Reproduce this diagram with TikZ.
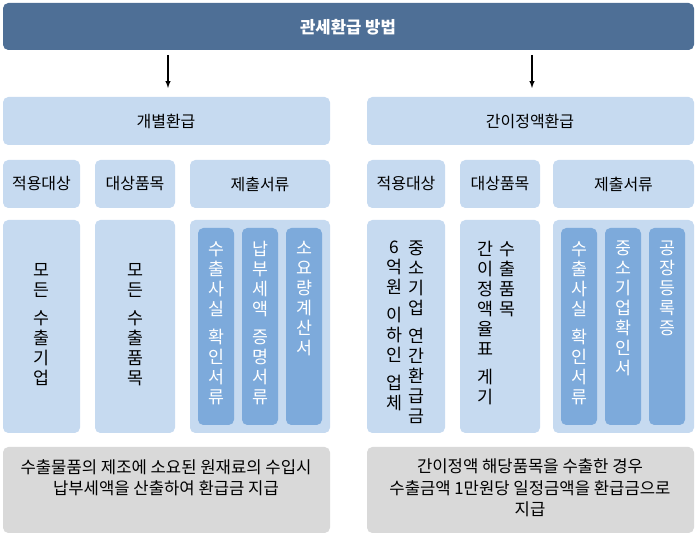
\documentclass[tikz,border=0pt]{standalone}
\usepackage{fontspec}
\setmainfont{Noto Sans CJK KR}
\usetikzlibrary{positioning}
\definecolor{titleblue}{HTML}{4E6F96}
\definecolor{lightblue}{HTML}{C6DAF0}
\definecolor{darkblue}{HTML}{7DAADB}
\definecolor{boxgray}{HTML}{D9D9D9}
\tikzset{
  box/.style={fill=lightblue,rounded corners=4pt,draw=none},
  inner/.style={fill=darkblue,rounded corners=4pt,draw=none},
  note/.style={fill=boxgray,rounded corners=4pt,draw=none},
  vert/.style={anchor=north,align=center,inner sep=0pt,font=\fontsize{13}{15}\selectfont},
  lbl/.style={font=\fontsize{12}{14}\selectfont,align=center}
}
\begin{document}
\begin{tikzpicture}[x=0.75pt,y=-0.75pt]
  \useasboundingbox (0,0) rectangle (697,538);
  % title
  \fill[titleblue,rounded corners=4pt] (3,3) rectangle (694,50);
  \node (title) [lbl,text=white,font=\bfseries\fontsize{12.5}{14}\selectfont] at (348,27) {관세환급 방법};
  % level 2
  \fill[box] (3,97) rectangle (330,145);
  \fill[box] (367,97) rectangle (694,145);
  \node (indiv) [lbl] at (166,121) {개별환급};
  \node (simple) [lbl] at (530,121) {간이정액환급};
  \coordinate (t1) at (168,55);
  \coordinate (t2) at (532,55);
  \draw[-latex,thick] (t1) -- (168,88);
  \draw[-latex,thick] (t2) -- (532,88);
  % level 3 headers and bodies
  \foreach \a/\b/\t in {3/80/적용대상,95/175/대상품목,190/330/제출서류,367/445/적용대상,460/540/대상품목,553/694/제출서류}{
    \fill[box] (\a,160) rectangle (\b,208);
    \node[lbl] at ({(\a+\b)/2},184) {\t};
    \fill[box] (\a,220) rectangle (\b,433);
  }
  % inner document boxes
  \foreach \a in {198,242,286,561,605,649}
    \fill[inner] (\a,228) rectangle (\a+36,425);
  % vertical texts
  \node (all) [vert] at (41,263) {모\\든\\[6pt]수\\출\\기\\업};
  \node (goods) [vert] at (135,263) {모\\든\\[6pt]수\\출\\품\\목};
  \node (doc1) [vert,text=white] at (216,241) {수\\출\\사\\실\\[6pt]확\\인\\서\\류};
  \node (doc2) [vert,text=white] at (260,241) {납\\부\\세\\액\\[6pt]증\\명\\서\\류};
  \node (doc3) [vert,text=white] at (304,241) {소\\요\\량\\계\\산\\서};
  \node (sme1) [vert] at (394,241) {6\\억\\원\\[6pt]이\\하\\인\\[6pt]업\\체};
  \node (sme2) [vert] at (416,241) {중\\소\\기\\업\\[6pt]연\\간\\환\\급\\금};
  \node (rate1) [vert] at (485,241) {간\\이\\정\\액\\율\\표\\[6pt]게\\기};
  \node (rate2) [vert] at (507,241) {수\\출\\품\\목};
  \node (doc4) [vert,text=white] at (579,241) {수\\출\\사\\실\\[6pt]확\\인\\서\\류};
  \node (doc5) [vert,text=white] at (623,241) {중\\소\\기\\업\\확\\인\\서};
  \node (doc6) [vert,text=white] at (667,241) {공\\장\\등\\록\\증};
  % bottom notes
  \fill[note] (3,447) rectangle (330,533);
  \fill[note] (367,447) rectangle (694,533);
  \node (note1) [lbl,font=\fontsize{12.5}{16}\selectfont] at (166,478) {수출물품의 제조에 소요된 원재료의 수입시\\납부세액을 산출하여 환급금 지급};
  \node (note2) [lbl,font=\fontsize{12.5}{16}\selectfont] at (530,488) {간이정액 해당품목을 수출한 경우\\수출금액 1만원당 일정금액을 환급금으로\\지급};
\end{tikzpicture}
\end{document}
